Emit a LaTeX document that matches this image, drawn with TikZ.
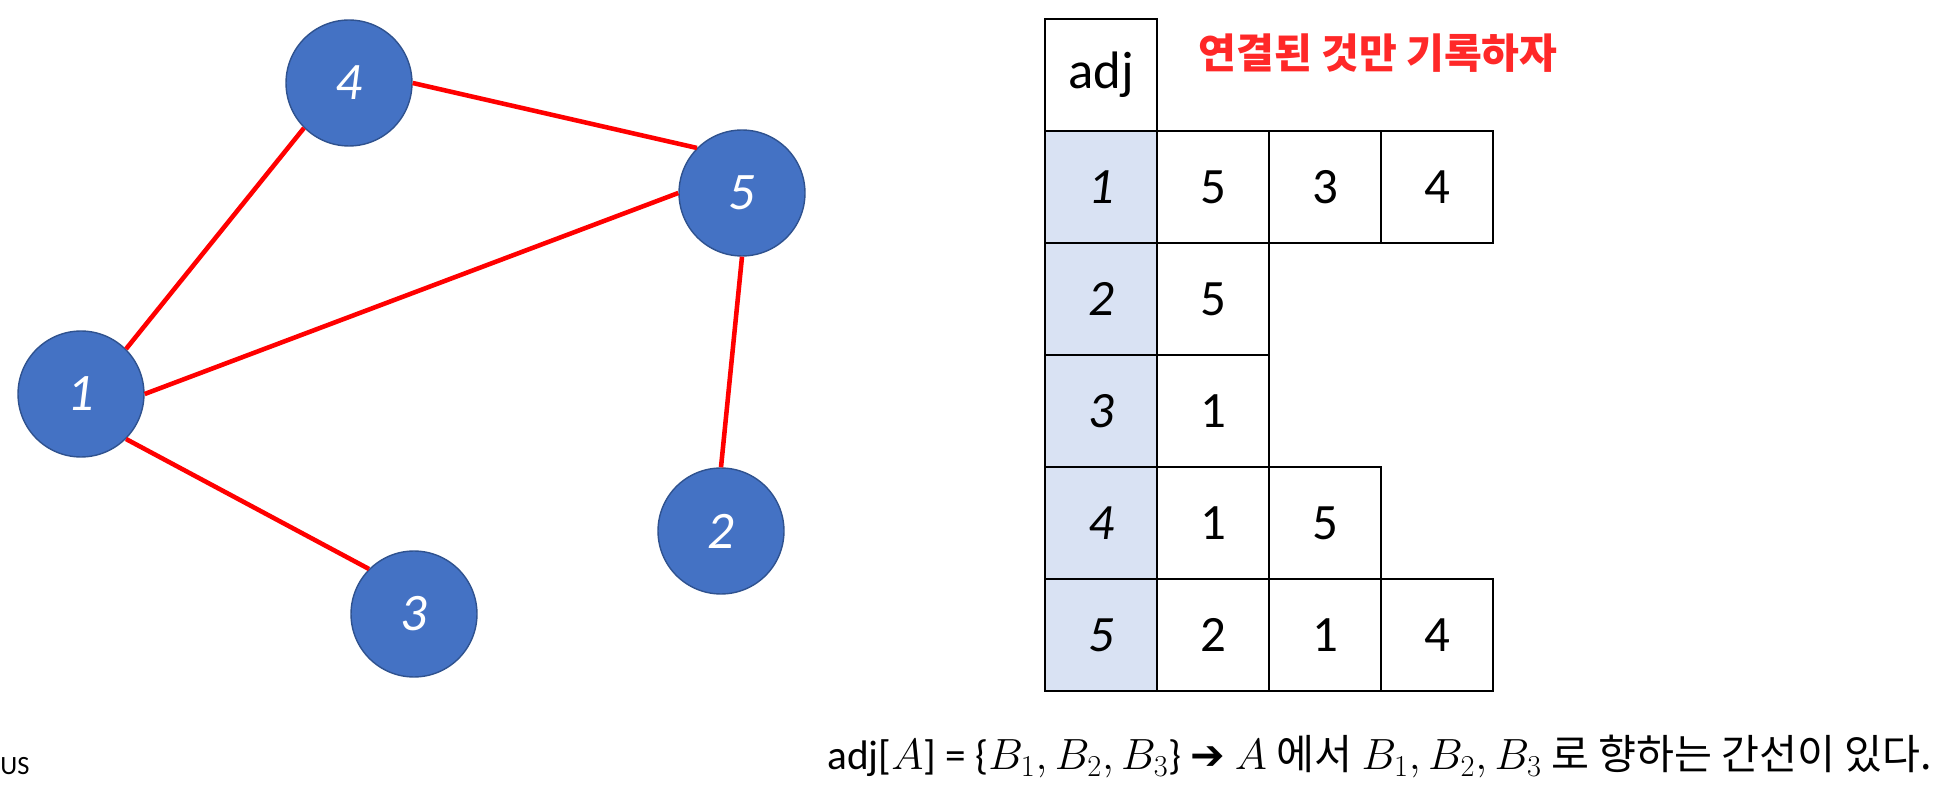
\documentclass[tikz,border=0pt]{standalone}
\usepackage{fontspec}
\setmainfont{Carlito}
\newfontfamily\krfont{Noto Sans CJK KR}
\newfontfamily\dejavu{DejaVu Sans}
\definecolor{nodeblue}{RGB}{68,114,196}
\definecolor{nodeborder}{RGB}{47,82,143}
\definecolor{edgered}{RGB}{255,0,0}
\definecolor{titlered}{RGB}{255,40,40}
\definecolor{headfill}{RGB}{217,226,243}
\begin{document}
\begin{tikzpicture}[x=0.02cm,y=-0.02cm,
  gnode/.style={circle,fill=nodeblue,draw=nodeborder,line width=0.8pt,minimum size=2.52cm,inner sep=0pt,text=white,font=\fontsize{30}{34}\selectfont\itshape},
  edge/.style={draw=edgered,line width=2.6pt},
  cellbox/.style={draw=black,line width=0.9pt,minimum width=2.24cm,minimum height=2.24cm,inner sep=0pt,font=\fontsize{29}{33}\selectfont},
  keybox/.style={cellbox,fill=headfill,font=\fontsize{29}{33}\selectfont\itshape}]
\useasboundingbox (0,0) rectangle (1950,786);
% graph nodes
\node[gnode] (n4) at (349,83) {4};
\node[gnode] (n5) at (742,193) {5};
\node[gnode] (n1) at (81,394) {1};
\node[gnode] (n2) at (721,531) {2};
\node[gnode] (n3) at (414,614) {3};
% edges between connection points
\draw[edge] (n1.north east) -- (n4.south west);
\draw[edge] (n4.east) -- (n5.north west);
\draw[edge] (n1.east) -- (n5.west);
\draw[edge] (n5.south) -- (n2.north);
\draw[edge] (n1.south east) -- (n3.north west);
% table
\node[cellbox,font=\fontsize{30}{34}\selectfont] (h) at (1101,75) {adj};
\node[keybox] (k1) at (1101,187) {1};
\node[keybox] (k2) at (1101,299) {2};
\node[keybox] (k3) at (1101,411) {3};
\node[keybox] (k4) at (1101,523) {4};
\node[keybox] (k5) at (1101,635) {5};
\node[cellbox] (c11) at (1213,187) {5};
\node[cellbox] (c12) at (1325,187) {3};
\node[cellbox] (c13) at (1437,187) {4};
\node[cellbox] (c21) at (1213,299) {5};
\node[cellbox] (c31) at (1213,411) {1};
\node[cellbox] (c41) at (1213,523) {1};
\node[cellbox] (c42) at (1325,523) {5};
\node[cellbox] (c51) at (1213,635) {2};
\node[cellbox] (c52) at (1325,635) {1};
\node[cellbox] (c53) at (1437,635) {4};
% title
\node[anchor=west,inner sep=0pt,text=titlered,font=\krfont\bfseries\fontsize{23.4}{26}\selectfont] (title) at (1198,53) {연결된 것만 기록하자};
% formula
\node[anchor=west,inner sep=0pt,font=\fontsize{23.5}{27}\selectfont] (formula) at (827,757)
  {adj[$A$] = \{$B_1, B_2, B_3$\} {\dejavu\bfseries ➔} $A$ {\krfont 에서} $B_1, B_2, B_3$ {\krfont 로 향하는 간선이 있다.}};
\node[anchor=west,inner sep=0pt,font=\fontsize{15}{17}\selectfont] (us) at (0,766) {US};
\end{tikzpicture}
\end{document}
